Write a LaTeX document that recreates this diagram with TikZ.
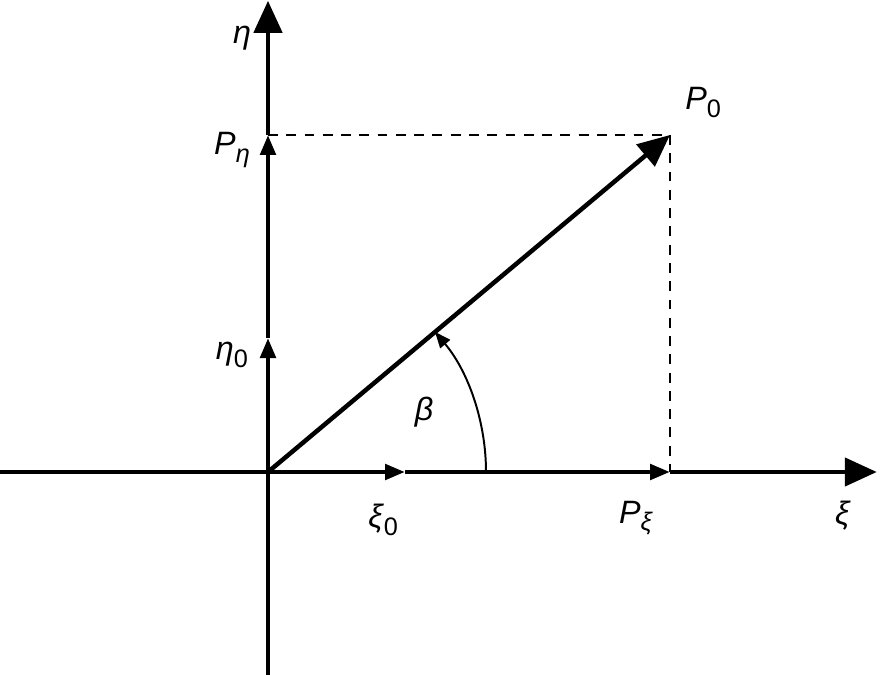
\documentclass[tikz,border=0pt]{standalone}
\usepackage{fontspec}
\setmainfont{Liberation Sans}
\usetikzlibrary{positioning}
\usetikzlibrary{arrows.meta}
\tikzset{
  axis-line/.style={line width=3.2pt},
  axis-tip/.style={-{Triangle[length=0.8cm, width=0.7cm]}},
  mark-tip/.style={-{Triangle[length=0.5cm, width=0.38cm]}},
  proj-line/.style={line width=1.3pt, dash pattern=on 7pt off 6pt},
  angle-arc/.style={line width=1.4pt, -{Triangle[length=0.4cm, width=0.32cm]}},
  lbl/.style={font=\fontsize{23}{27}\selectfont, inner sep=0pt},
}
\newcommand{\lowidx}[1]{\raisebox{-0.45ex}{\fontsize{18}{21}\selectfont #1}}

\begin{document}
\begin{tikzpicture}
\useasboundingbox (-6.7,-5.05) rectangle (15.3,11.8);
% points on the axes
\coordinate (O) at (0,0);
\coordinate (xistart) at (-6.7,0);
\coordinate (xi0) at (3.425,0);
\coordinate (Pxi) at (10.05,0);
\coordinate (xiend) at (15.22,0);
\coordinate (etabot) at (0,-5.1);
\coordinate (eta0) at (0,3.35);
\coordinate (Peta) at (0,8.425);
\coordinate (etaend) at (0,11.78);
\coordinate (P0) at (10.05,8.425);
\coordinate (arcstart) at (5.45,0);
% xi axis
\draw[axis-line] (xistart) -- (O);
\draw[axis-line, mark-tip] (O) -- (xi0);
\draw[axis-line, mark-tip] (xi0) -- (Pxi);
\draw[axis-line, axis-tip] (Pxi) -- (xiend);
% eta axis
\draw[axis-line] (etabot) -- (O);
\draw[axis-line, mark-tip] (O) -- (eta0);
\draw[axis-line, mark-tip] (eta0) -- (Peta);
\draw[axis-line, axis-tip] (Peta) -- (etaend);
% projections
\draw[proj-line] (Peta) -- (P0) -- (Pxi);
% vector and angle
\draw[axis-line, axis-tip] (O) -- (P0);
\draw[angle-arc] (arcstart) arc[start angle=0, end angle=40, radius=5.45];
% labels
\node[lbl] (eta-lbl) at (-0.65,10.85) {\textit{η}};
\node[lbl] (Peta-lbl) at (-0.9,8.05) {\textit{P}\lowidx{\textit{η}}};
\node[lbl] (eta0-lbl) at (-0.9,2.93) {\textit{η}\lowidx{0}};
\node[lbl] (xi-lbl) at (14.375,-1.08) {\textit{ξ}};
\node[lbl] (xi0-lbl) at (2.88,-1.2) {\textit{ξ}\lowidx{0}};
\node[lbl] (Pxi-lbl) at (9.2,-1.15) {\textit{P}\lowidx{\textit{ξ}}};
\node[lbl] (P0-lbl) at (10.88,9.23) {\textit{P}\lowidx{0}};
\node[lbl] (beta-lbl) at (3.9,1.5) {\textit{β}};
\end{tikzpicture}
\end{document}
